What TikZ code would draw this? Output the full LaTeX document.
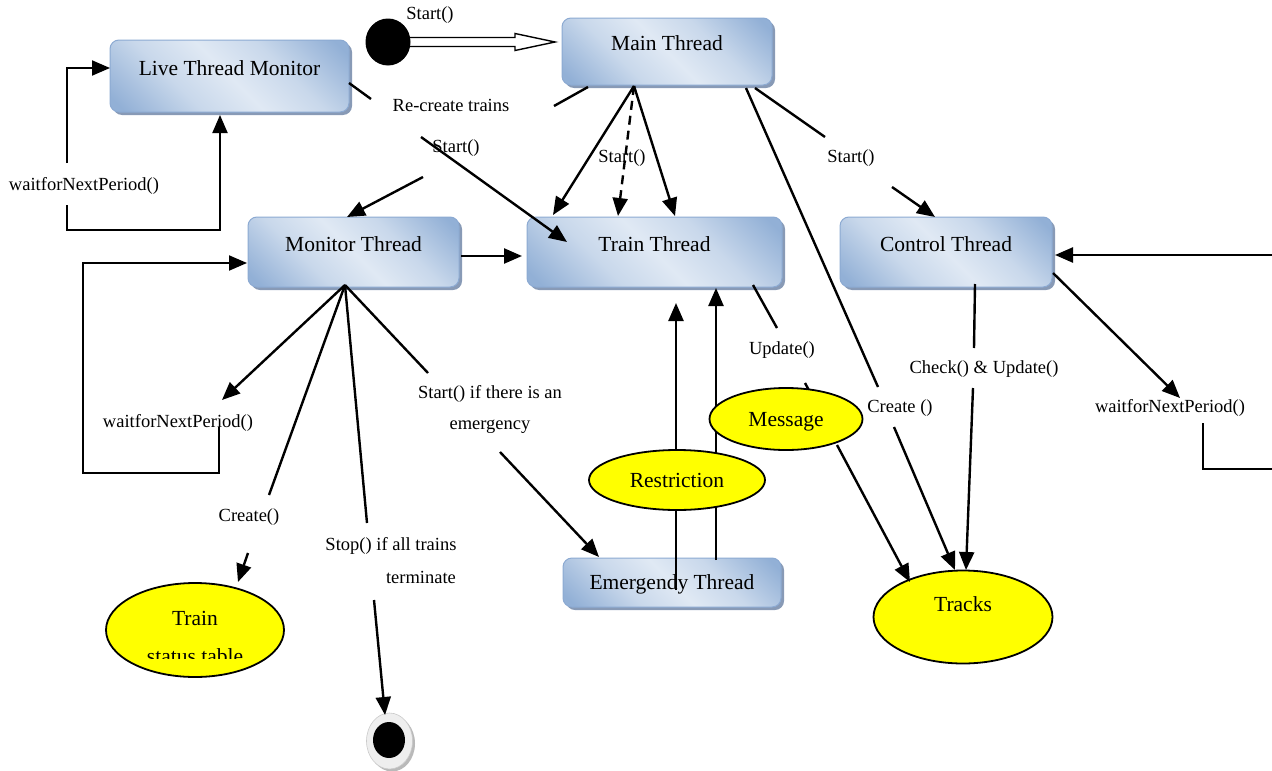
\documentclass[tikz,border=0pt]{standalone}
\usepackage{fontspec}
\setmainfont{Liberation Serif}
\usetikzlibrary{arrows.meta,shadows,shapes.geometric}

\definecolor{boxdark}{RGB}{146,176,214}
\definecolor{boxlight}{RGB}{224,233,244}
\colorlet{boxmid}{boxdark!30!boxlight}
\definecolor{boxedge}{RGB}{140,170,210}
\definecolor{boxshade}{RGB}{136,154,182}
\definecolor{notefill}{RGB}{255,255,0}
\definecolor{ringgray}{RGB}{238,238,238}
\definecolor{ringshade}{RGB}{185,185,185}

% diagonal sheen for the thread boxes
\pgfdeclareverticalshading{threadshade}{100bp}{%
  color(0bp)=(boxdark); color(18bp)=(boxdark); color(36bp)=(boxmid);
  color(50bp)=(boxlight); color(64bp)=(boxmid); color(82bp)=(boxdark);
  color(100bp)=(boxdark)}

\tikzset{
  bigfont/.style={font=\fontsize{21.5}{24}\selectfont},
  lbl/.style={font=\fontsize{18.5}{21}\selectfont, inner sep=1pt},
  threadbox/.style={rectangle, rounded corners=9pt, draw=boxedge, line width=1pt,
    shading=threadshade, shading angle=-45,
    drop shadow={shadow xshift=3pt, shadow yshift=-3pt, fill=boxshade, opacity=1},
    bigfont, inner sep=0pt, text height=15pt, text depth=16.8pt},
  notenode/.style={ellipse, draw=black, line width=1.8pt, fill=notefill,
    bigfont, inner sep=0pt, text height=15pt, text depth=0.8pt},
  tip/.style={-{Triangle[length=18pt,width=15pt]}},
  conn/.style={line width=2.4pt},
  loopline/.style={line width=2pt},
}

\begin{document}
\begin{tikzpicture}[x=1pt,y=-1pt]
\useasboundingbox (0,0) rectangle (1272,771);
\clip (0,0) rectangle (1272,771);

% ---------- thread states ----------
\node[threadbox, minimum width=239, minimum height=72] (ltm) at (229.5,76) {Live Thread Monitor};
\node[threadbox, minimum width=210, minimum height=67] (main) at (667,51.5) {Main Thread};
\node[threadbox, minimum width=211, minimum height=70] (monitor) at (353.5,252) {Monitor Thread};
\node[threadbox, minimum width=255, minimum height=70] (train) at (654.5,252) {Train Thread};
\node[threadbox, minimum width=212, minimum height=70] (control) at (946,252) {Control Thread};
\node[threadbox, minimum width=218, minimum height=49, text depth=0.8pt] (emergency) at (672,582.5) {Emergendy Thread};

% ---------- data objects ----------
\node[notenode, minimum width=179, minimum height=93, text depth=26.8pt] (tracks) at (963,617) {Tracks};
\node[notenode, minimum width=178, minimum height=94, text depth=24.8pt] (tst) at (195,630) {Train};
\begin{scope}
  \clip (100,630) rectangle (290,658);
  \node[bigfont, anchor=base, inner sep=0pt] (tstline) at (195,663) {status table};
\end{scope}

% ---------- initial and final states ----------
\draw[line width=1.4pt, fill=white] (409,37.5) -- (515,37.5) -- (515,33.5) -- (555,42)
  -- (515,50.5) -- (515,46.5) -- (409,46.5);
\node[ellipse, fill=black, minimum width=45, minimum height=47, inner sep=0pt] (start) at (388,42) {};
\node[ellipse, fill=ringgray, draw=ringgray!85!black, line width=0.6pt,
  minimum width=46, minimum height=56, inner sep=0pt,
  drop shadow={shadow xshift=2.5pt, shadow yshift=-2.5pt, fill=ringshade, opacity=1}] (endring) at (389.5,741) {};
\node[ellipse, fill=black, minimum width=32, minimum height=36, inner sep=0pt] (end) at (389,740) {};

% ---------- labels ----------
\node[lbl] (lStartInit) at (430,15) {Start()};
\node[lbl] (lRecreate) at (451,105) {Re-create trains};
\node[lbl] (lStartMon) at (456,148) {Start()};
\node[lbl] (lStartTrain) at (622,158) {Start()};
\node[lbl] (lStartCtrl) at (851,158) {Start()};
\node[lbl] (lWaitLtm) at (84,186) {waitforNextPeriod()};
\node[lbl] (lWaitMon) at (178,423) {waitforNextPeriod()};
\node[lbl] (lWaitCtrl) at (1170,408) {waitforNextPeriod()};
\node[lbl] (lCreate) at (249,517) {Create()};
\node[lbl] (lStop) at (391,546) {Stop() if all trains};
\node[lbl] (lTerm) at (421,577) {terminate};
\node[lbl] (lEmerg) at (490,394) {Start() if there is an};
\node[lbl] (lEmergB) at (490,427) {emergency};
\node[lbl] (lUpdate) at (782,350) {Update()};
\node[lbl] (lCheck) at (984,369) {Check() \& Update()};
\node[lbl] (lCreateTr) at (900,408) {Create ()};

% ---------- connector end points ----------
\coordinate (ltmIn) at (110,68);
\coordinate (ltmInB) at (220,115);
\coordinate (ltmGapA) at (67,163);
\coordinate (ltmGapB) at (67,205);
\coordinate (ltmOut) at (349,83);
\coordinate (ltmGapC) at (371,99);
\coordinate (ltmGapD) at (421,137);
\coordinate (trainInA) at (567,242);

\coordinate (mainOutL) at (588,87);
\coordinate (mainGapL) at (554,106);
\coordinate (monGapIn) at (423,177);
\coordinate (monTopIn) at (347,217);

\coordinate (mainBot) at (634,86);
\coordinate (trainInB) at (553,215);
\coordinate (trainInC) at (618,216);
\coordinate (trainInD) at (675,216);

\coordinate (mainOutR) at (755,88);
\coordinate (ctrlGapA) at (825,137);
\coordinate (ctrlGapB) at (892,187);
\coordinate (ctrlTopIn) at (935,217);

\coordinate (mainOutT) at (746,88);
\coordinate (trkGapA) at (878,387);
\coordinate (trkGapB) at (894,427);
\coordinate (trkInA) at (955,570);

\coordinate (monOutR) at (461,256);
\coordinate (trainInL) at (522,256);

\coordinate (monBot) at (345,285);
\coordinate (monWaitTip) at (222,400);
\coordinate (monLoopA) at (219,427);
\coordinate (monLoopB) at (219,473);
\coordinate (monLoopC) at (83,473);
\coordinate (monLoopD) at (83,263);
\coordinate (monLoopIn) at (247,263);
\coordinate (crGapA) at (269,495);
\coordinate (crGapB) at (248,553);
\coordinate (tstIn) at (238,582);
\coordinate (stGapA) at (367,523);
\coordinate (stGapB) at (374,600);
\coordinate (endIn) at (385,715);
\coordinate (emGapA) at (428,373);
\coordinate (emGapB) at (500,452);
\coordinate (emIn) at (599,557);

\coordinate (trainOutU) at (753,285);
\coordinate (updGapA) at (777,328);
\coordinate (updGapB) at (805,383);
\coordinate (msgIn) at (811,394);

\coordinate (ctrlOutB) at (975,284);
\coordinate (chkGapA) at (974,348);
\coordinate (chkGapB) at (973,388);
\coordinate (trkInC) at (966,570);

\coordinate (ctrlOutR) at (1053,273);
\coordinate (ctrlWaitTip) at (1180,398);
\coordinate (ctrlLoopA) at (1203,423);
\coordinate (ctrlLoopB) at (1203,469);
\coordinate (ctrlLoopC) at (1290,469);
\coordinate (ctrlLoopD) at (1290,255);
\coordinate (ctrlLoopIn) at (1055,255);

\coordinate (msgOut) at (837,445);
\coordinate (trkInB) at (910,582);

\coordinate (emOutA) at (676,590);
\coordinate (trainInE) at (676,303);
\coordinate (emOutB) at (716,560);
\coordinate (trainInF) at (716,288);

% ---------- Live Thread Monitor ----------
\draw[loopline, tip] (ltmGapA) -- (67,68) -- (ltmIn);
\draw[loopline, tip] (ltmGapB) -- (67,230) -- (220,230) -- (ltmInB);
\draw[conn] (ltmOut) -- (ltmGapC);
\draw[conn, tip] (ltmGapD) -- (trainInA);

% ---------- Main Thread ----------
\draw[conn] (mainOutL) -- (mainGapL);
\draw[conn, tip] (monGapIn) -- (monTopIn);
\draw[conn, tip] (mainBot) -- (trainInB);
\draw[conn, tip, dash pattern=on 9pt off 6pt] (mainBot) -- (trainInC);
\draw[conn, tip] (mainBot) -- (trainInD);
\draw[conn] (mainOutR) -- (ctrlGapA);
\draw[conn, tip] (ctrlGapB) -- (ctrlTopIn);
\draw[conn] (mainOutT) -- (trkGapA);
\draw[conn, tip] (trkGapB) -- (trkInA);

% ---------- Monitor Thread ----------
\draw[conn, tip] (monOutR) -- (trainInL);
\draw[conn, tip] (monBot) -- (monWaitTip);
\draw[loopline, tip] (monLoopA) -- (monLoopB) -- (monLoopC) -- (monLoopD) -- (monLoopIn);
\draw[conn] (monBot) -- (crGapA);
\draw[conn, tip] (crGapB) -- (tstIn);
\draw[conn] (monBot) -- (stGapA);
\draw[conn, tip] (stGapB) -- (endIn);
\draw[conn] (monBot) -- (emGapA);
\draw[conn, tip] (emGapB) -- (emIn);

% ---------- Train Thread ----------
\draw[conn] (trainOutU) -- (updGapA);
\draw[conn] (updGapB) -- (msgIn);

% ---------- Control Thread ----------
\draw[conn] (ctrlOutB) -- (chkGapA);
\draw[conn, tip] (chkGapB) -- (trkInC);
\draw[conn, tip] (ctrlOutR) -- (ctrlWaitTip);
\draw[conn, tip] (ctrlLoopA) -- (ctrlLoopB) -- (ctrlLoopC) -- (ctrlLoopD) -- (ctrlLoopIn);

% ---------- Emergency Thread ----------
\draw[conn, tip] (emOutA) -- (trainInE);
\draw[conn, tip] (emOutB) -- (trainInF);

% ---------- messages on top of the lines ----------
\node[notenode, minimum width=176, minimum height=60] (restriction) at (677,480) {Restriction};
\node[notenode, minimum width=153, minimum height=62] (message) at (786,419) {Message};
\draw[conn, tip] (msgOut) -- (trkInB);

\end{tikzpicture}
\end{document}
